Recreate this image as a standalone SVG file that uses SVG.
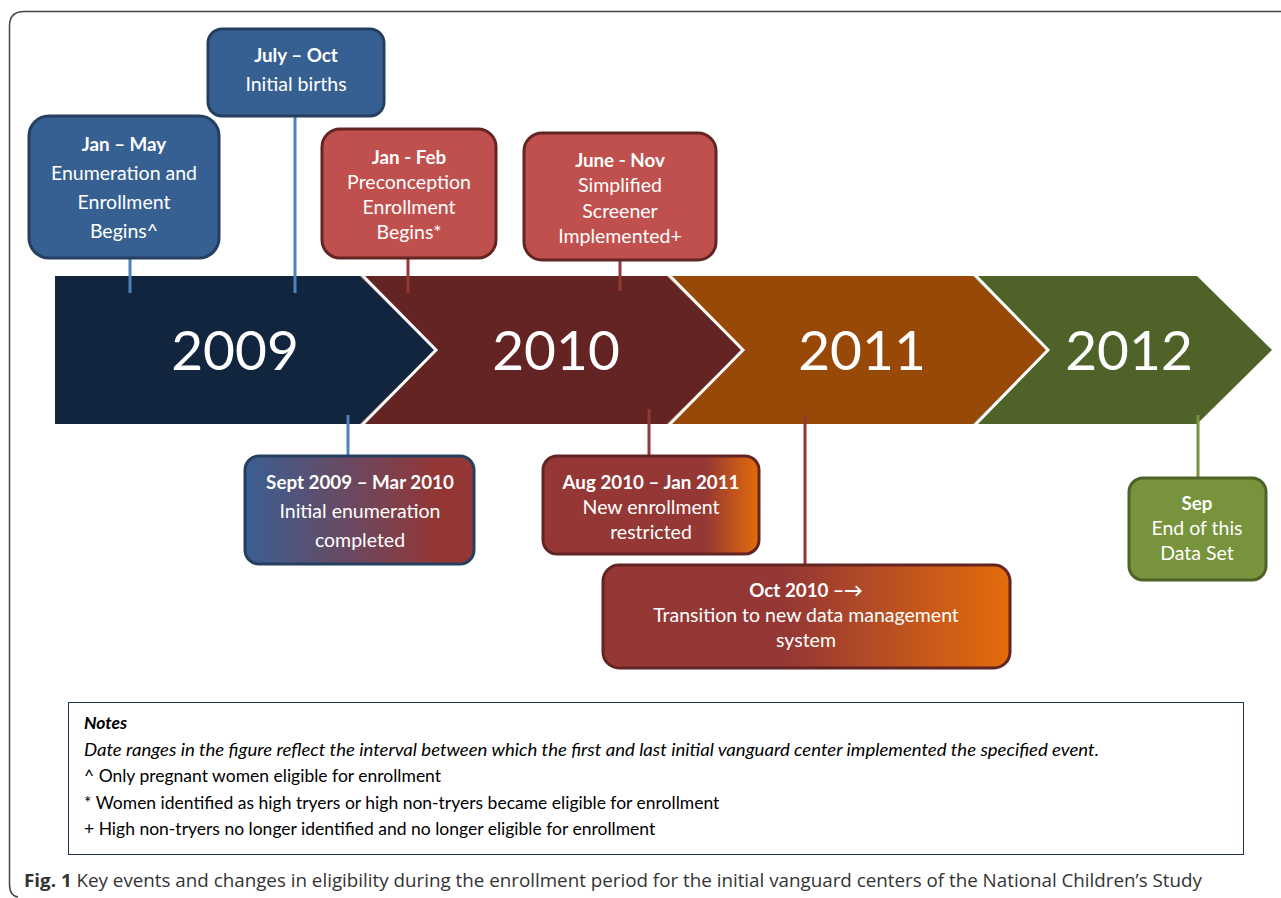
<svg xmlns="http://www.w3.org/2000/svg" width="1281" height="898" viewBox="0 0 1281 898">
<defs>
<linearGradient id="gSept" x1="0" y1="0" x2="1" y2="0">
<stop offset="0" stop-color="#3a5f93"/><stop offset="0.85" stop-color="#943634"/><stop offset="1" stop-color="#943634"/>
</linearGradient>
<linearGradient id="gAug" x1="0" y1="0" x2="1" y2="0">
<stop offset="0" stop-color="#953735"/><stop offset="0.75" stop-color="#953735"/><stop offset="1" stop-color="#e46c0a"/>
</linearGradient>
<linearGradient id="gOct" x1="0" y1="0" x2="1" y2="0">
<stop offset="0" stop-color="#953735"/><stop offset="0.45" stop-color="#953735"/><stop offset="1" stop-color="#e46c0a"/>
</linearGradient>
<style>
.box text{font-family:Lato,"Open Sans",sans-serif;font-size:19.5px;fill:#fff;text-anchor:middle}
.box .t{font-weight:bold;font-size:18.8px}
.blue rect{fill:#376092;stroke:#243f60;stroke-width:3}
.red rect{fill:#c0504d;stroke:#632523;stroke-width:3}
.year{font-family:Lato,"Open Sans",sans-serif;font-size:55px;fill:#fff;text-anchor:middle}
.sep{fill:none;stroke:#fff;stroke-width:3}
.conn line{stroke-width:3}
.cb{stroke:#4f81bd}
.cr{stroke:#953735}
.cg{stroke:#77933c}
.notes{font-family:Lato,"Open Sans",sans-serif;font-size:17.5px;fill:#000}
.cap{font-family:"Open Sans","Noto Sans",sans-serif;font-size:18.5px;fill:#333}
</style>
</defs>
<rect width="1281" height="898" fill="#fff"/>
<path d="M1281,11.5 H24 Q9.5,11.5 9.5,26 V884 Q9.5,896 18,897" fill="none" stroke="#444" stroke-width="1.5"/>

<g id="timeline">
<polygon points="55,276 360,276 435,350 360,424 55,424" fill="#12253f"/>
<polygon points="360,276 667,276 742,350 667,424 360,424 435,350" fill="#632423"/>
<polygon points="667,276 973,276 1047,350 973,424 667,424 742,350" fill="#984807"/>
<polygon points="973,276 1197,276 1272,350 1197,424 973,424 1047,350" fill="#4f6228"/>
<polyline class="sep" points="361,274 436,350 361,426"/>
<polyline class="sep" points="668,274 743,350 668,426"/>
<polyline class="sep" points="974,274 1048,350 974,426"/>
<text class="year" x="235" y="370">2009</text>
<text class="year" x="556" y="370">2010</text>
<text class="year" x="862" y="370">2011</text>
<text class="year" x="1129" y="370">2012</text>
</g>

<g id="connectors" class="conn">
<line class="cb" x1="130" y1="258" x2="130" y2="293"/>
<line class="cb" x1="295" y1="116" x2="295" y2="293"/>
<line class="cr" x1="408" y1="258" x2="408" y2="293"/>
<line class="cr" x1="620" y1="260" x2="620" y2="291"/>
<line class="cb" x1="348" y1="415" x2="348" y2="456"/>
<line class="cr" x1="649" y1="409" x2="649" y2="456"/>
<line class="cr" x1="805" y1="415" x2="805" y2="565"/>
<line class="cg" x1="1198" y1="415" x2="1198" y2="478"/>
</g>

<g id="n-janmay" class="box blue">
<rect x="29" y="116" width="190" height="142" rx="20"/>
<text class="t" x="124" y="151">Jan – May</text>
<text x="124" y="180">Enumeration and</text>
<text x="124" y="209">Enrollment</text>
<text x="124" y="238">Begins^</text>
</g>
<g id="n-julyoct" class="box blue">
<rect x="208" y="29" width="176" height="87" rx="14"/>
<text class="t" x="296" y="62">July – Oct</text>
<text x="296" y="91">Initial births</text>
</g>
<g id="n-janfeb" class="box red">
<rect x="322" y="129" width="174" height="129" rx="18"/>
<text class="t" x="409" y="164">Jan - Feb</text>
<text x="409" y="189">Preconception</text>
<text x="409" y="214">Enrollment</text>
<text x="409" y="239">Begins*</text>
</g>
<g id="n-junenov" class="box red">
<rect x="524" y="133" width="192" height="127" rx="18"/>
<text class="t" x="620" y="167">June - Nov</text>
<text x="620" y="192">Simplified</text>
<text x="620" y="218">Screener</text>
<text x="620" y="243">Implemented+</text>
</g>
<g id="n-sept" class="box">
<rect x="245" y="456" width="229" height="108" rx="14" fill="url(#gSept)" stroke="#243f60" stroke-width="3"/>
<text class="t" x="360" y="489">Sept 2009 – Mar 2010</text>
<text x="360" y="518">Initial enumeration</text>
<text x="360" y="547">completed</text>
</g>
<g id="n-aug" class="box">
<rect x="543" y="456" width="216" height="98" rx="14" fill="url(#gAug)" stroke="#632523" stroke-width="3"/>
<text class="t" x="651" y="489">Aug 2010 – Jan 2011</text>
<text x="651" y="514">New enrollment</text>
<text x="651" y="539">restricted</text>
</g>
<g id="n-oct" class="box">
<rect x="603" y="565" width="407" height="103" rx="16" fill="url(#gOct)" stroke="#632523" stroke-width="3"/>
<text class="t" x="806" y="597">Oct 2010 –→</text>
<text x="806" y="622">Transition to new data management</text>
<text x="806" y="647">system</text>
</g>
<g id="n-sep" class="box">
<rect x="1129" y="478" width="137" height="102" rx="14" fill="#77933c" stroke="#4f6228" stroke-width="3"/>
<text class="t" x="1197" y="510">Sep</text>
<text x="1197" y="535">End of this</text>
<text x="1197" y="560">Data Set</text>
</g>

<g id="notes">
<rect x="68.5" y="702.5" width="1175" height="152" fill="none" stroke="#1f3350" stroke-width="1"/>
<text class="notes" x="84" y="729" font-weight="bold" font-style="italic">Notes</text>
<text class="notes" x="84" y="756" font-style="italic" textLength="1015" lengthAdjust="spacingAndGlyphs">Date ranges in the figure reflect the interval between which the first and last initial vanguard center implemented the specified event.</text>
<text class="notes" x="84" y="782">^ Only pregnant women eligible for enrollment</text>
<text class="notes" x="84" y="809">* Women identified as high tryers or high non-tryers became eligible for enrollment</text>
<text class="notes" x="84" y="835">+ High non-tryers no longer identified and no longer eligible for enrollment</text>
</g>

<text class="cap" x="24" y="887" textLength="1178" lengthAdjust="spacingAndGlyphs"><tspan font-weight="bold">Fig. 1</tspan> Key events and changes in eligibility during the enrollment period for the initial vanguard centers of the National Children’s Study</text>
</svg>
